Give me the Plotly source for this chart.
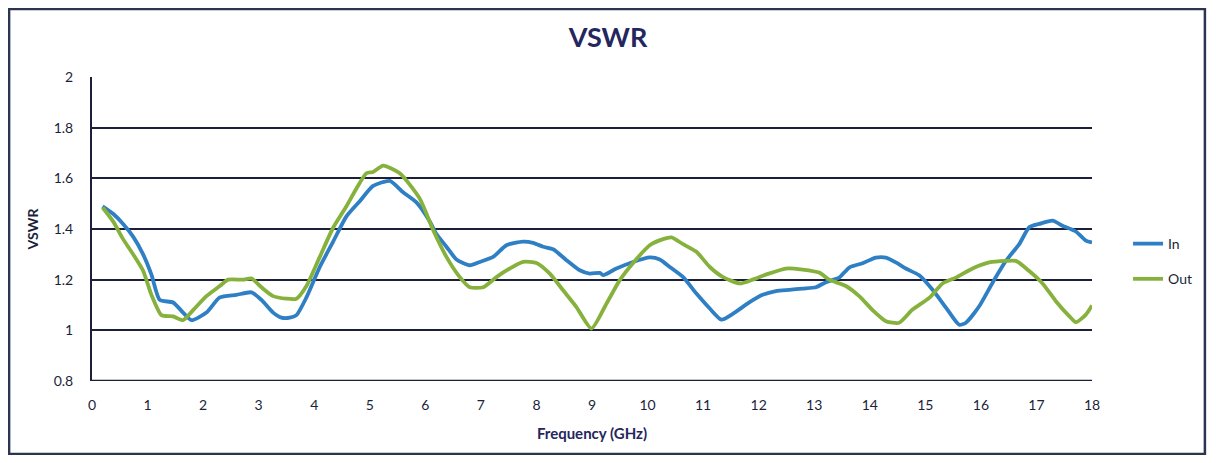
import plotly.graph_objects as go

# Frequency (GHz) and VSWR
freq_in = [0.19, 0.38, 0.56, 0.74, 0.92, 1.07, 1.22, 1.46, 1.64, 1.79, 2.06, 2.30, 2.60, 2.87,
           3.05, 3.26, 3.41, 3.56, 3.68, 3.86, 4.10, 4.34, 4.58, 4.82, 5.06, 5.36, 5.60, 5.84,
           6.08, 6.20, 6.38, 6.56, 6.80, 6.98, 7.22, 7.46, 7.76, 7.94, 8.12, 8.30, 8.54, 8.78,
           8.96, 9.14, 9.20, 9.44, 9.74, 10.04, 10.22, 10.40, 10.64, 10.88, 11.12, 11.33, 11.54,
           11.83, 12.07, 12.31, 12.55, 12.79, 13.03, 13.21, 13.45, 13.63, 13.87, 14.11, 14.29,
           14.47, 14.65, 14.89, 15.13, 15.37, 15.61, 15.73, 15.97, 16.21, 16.45, 16.69, 16.87,
           17.05, 17.29, 17.47, 17.71, 17.89, 18.00]
vswr_in = [1.49, 1.46, 1.42, 1.37, 1.30, 1.22, 1.12, 1.11, 1.07, 1.04, 1.07, 1.13, 1.14, 1.15,
           1.12, 1.07, 1.05, 1.05, 1.06, 1.13, 1.25, 1.35, 1.45, 1.51, 1.57, 1.59, 1.545, 1.505,
           1.43, 1.38, 1.33, 1.28, 1.257, 1.27, 1.29, 1.336, 1.35, 1.345, 1.33, 1.32, 1.277, 1.237,
           1.224, 1.227, 1.218, 1.244, 1.27, 1.288, 1.28, 1.25, 1.21, 1.145, 1.086, 1.042, 1.066,
           1.11, 1.14, 1.155, 1.16, 1.165, 1.17, 1.19, 1.208, 1.248, 1.265, 1.287, 1.287,
           1.268, 1.244, 1.217, 1.16, 1.09, 1.022, 1.03, 1.095, 1.188, 1.274, 1.34, 1.407,
           1.42, 1.433, 1.413, 1.39, 1.354, 1.347]

freq_out = [0.19, 0.38, 0.56, 0.74, 0.92, 1.07, 1.25, 1.46, 1.64, 1.82, 2.06, 2.30, 2.45, 2.72,
            2.87, 3.05, 3.26, 3.50, 3.68, 3.86, 4.10, 4.34, 4.58, 4.76, 4.94, 5.06, 5.24, 5.54,
            5.90, 6.14, 6.38, 6.62, 6.80, 7.04, 7.28, 7.52, 7.76, 8.00, 8.24, 8.48, 8.72, 8.99,
            9.26, 9.50, 9.74, 10.04, 10.28, 10.43, 10.64, 10.88, 11.12, 11.36, 11.66, 11.89,
            12.13, 12.49, 12.79, 13.09, 13.27, 13.57, 13.81, 14.05, 14.29, 14.53, 14.77, 15.07,
            15.31, 15.55, 15.85, 16.15, 16.45, 16.63, 16.87, 17.11, 17.35, 17.59, 17.71, 17.89,
            18.00]
vswr_out = [1.485, 1.43, 1.36, 1.30, 1.235, 1.14, 1.06, 1.055, 1.04, 1.08, 1.135, 1.175, 1.20,
            1.20, 1.205, 1.17, 1.135, 1.125, 1.125, 1.175, 1.29, 1.405, 1.49, 1.56, 1.62, 1.625,
            1.65, 1.62, 1.52, 1.396, 1.29, 1.21, 1.17, 1.17, 1.21, 1.244, 1.27, 1.266, 1.224,
            1.158, 1.092, 1.007, 1.105, 1.198, 1.266, 1.336, 1.36, 1.367, 1.34, 1.31, 1.25, 1.21,
            1.185, 1.20, 1.22, 1.244, 1.24, 1.228, 1.20, 1.175, 1.135, 1.08, 1.036, 1.03, 1.082,
            1.128, 1.185, 1.208, 1.244, 1.268, 1.274, 1.274, 1.234, 1.185, 1.115, 1.056, 1.032,
            1.062, 1.098]

x_ticks = list(range(0, 19))
y_ticks = [0.8, 1, 1.2, 1.4, 1.6, 1.8, 2]
y_tick_text = ["0.8", "1", "1.2", "1.4", "1.6", "1.8", "2"]

FONT = "Lato, 'Open Sans', sans-serif"
DARK = "#1b1f3a"
NAVY = "#24265e"

fig = go.Figure()
fig.add_trace(go.Scatter(x=freq_in, y=vswr_in, mode="lines", name="In",
                         legendgroup="in",
                         line=dict(color="#2f7fc4", width=3.8, shape="spline", smoothing=0.6)))
fig.add_trace(go.Scatter(x=freq_out, y=vswr_out, mode="lines", name="Out",
                         legendgroup="out",
                         line=dict(color="#86b13c", width=3.8, shape="spline", smoothing=0.6)))

# page body has an 8px margin, so the figure is 1200x447 placed at (8, 8)
fig.update_layout(
    width=1200, height=447,
    margin=dict(l=84, r=115, t=69, b=74),
    paper_bgcolor="white", plot_bgcolor="white",
    font=dict(family=FONT, color=DARK, size=13),
    title=dict(text="<b>VSWR</b>", x=0.5, xanchor="center", xref="container",
               y=0.935, yanchor="middle", yref="container",
               font=dict(family=FONT, size=27, color=NAVY)),
    showlegend=True,
    legend=dict(x=1.035, xanchor="left", y=0.393, yanchor="middle",
                font=dict(family=FONT, size=14, color=DARK),
                tracegroupgap=14, bgcolor="rgba(0,0,0,0)"),
    xaxis=dict(range=[0, 18], tickmode="array", tickvals=x_ticks,
               showgrid=False, zeroline=False, showline=False,
               ticks="", ticklen=0, ticklabelstandoff=14,
               tickfont=dict(family=FONT, size=14, color=DARK),
               title=dict(text="<b>Frequency (GHz)</b>", standoff=16,
                          font=dict(family=FONT, size=15, color=NAVY))),
    yaxis=dict(range=[0.8, 2.0], tickmode="array", tickvals=y_ticks, ticktext=y_tick_text,
               showgrid=True, gridcolor=DARK, gridwidth=1.5,
               zeroline=False, showline=True, linecolor=DARK, linewidth=2,
               ticks="", ticklabelstandoff=14,
               tickfont=dict(family=FONT, size=14, color=DARK),
               title=dict(text="<b>VSWR</b>", standoff=12,
                          font=dict(family=FONT, size=14, color=DARK))),
)

# bottom axis line at 0.8 and outer chart border
fig.add_shape(type="line", xref="paper", yref="y", x0=0, x1=1, y0=0.8, y1=0.8,
              line=dict(color=DARK, width=2.5))
fig.add_shape(type="rect", xref="paper", yref="paper",
              x0=-0.0829, x1=1.1129, y0=-0.240, y1=1.2240,
              line=dict(color="#2b3550", width=2.5), layer="below")

fig.write_html("out.html")
